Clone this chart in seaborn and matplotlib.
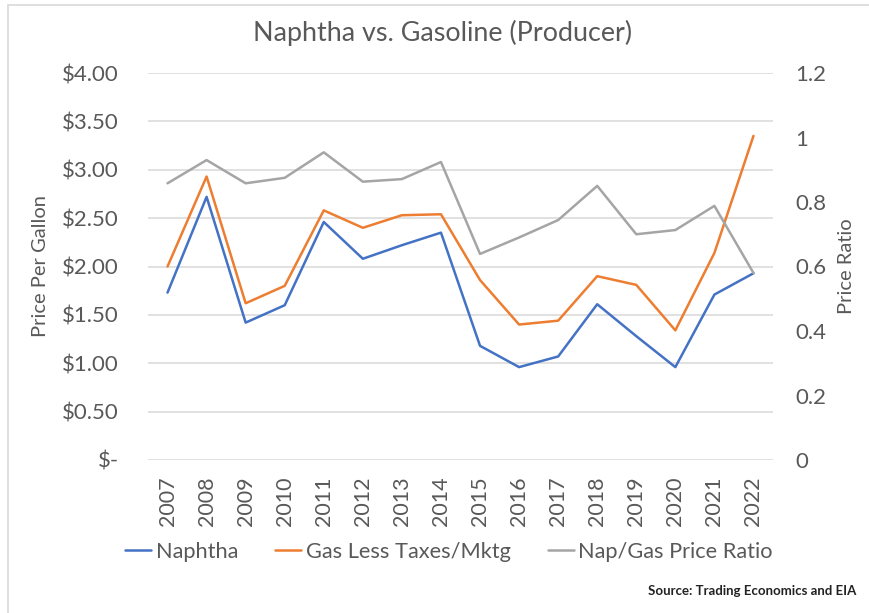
import matplotlib
matplotlib.use("Agg")
import matplotlib.pyplot as plt
import numpy as np
import pandas as pd
import seaborn as sns
from matplotlib.patches import Rectangle
from matplotlib.lines import Line2D
from matplotlib.ticker import FuncFormatter, MultipleLocator

# ---- data ----
years = list(range(2007, 2023))
naphtha = [1.73, 2.72, 1.42, 1.60, 2.46, 2.08, 2.22, 2.35, 1.18, 0.96, 1.07, 1.61, 1.28, 0.96, 1.71, 1.93]
gas_less = [2.00, 2.93, 1.62, 1.80, 2.58, 2.40, 2.53, 2.54, 1.86, 1.40, 1.44, 1.90, 1.81, 1.34, 2.14, 3.35]
ratio = [0.858, 0.930, 0.858, 0.875, 0.954, 0.863, 0.871, 0.924, 0.639, 0.690, 0.744, 0.850, 0.700, 0.713, 0.788, 0.580]

series_names = ["Naphtha", "Gas Less Taxes/Mktg", "Nap/Gas Price Ratio"]
colors = ["#4472C4", "#ED7D31", "#A5A5A5"]
txt = "#595959"

df = pd.DataFrame({"Year": years, "Naphtha": naphtha, "Gas": gas_less, "Ratio": ratio})

sns.set_style("white")
plt.rcParams["font.family"] = ["Lato", "DejaVu Sans"]

fig = plt.figure(figsize=(8.69, 6.13), dpi=100)
ax = fig.add_axes([148 / 869, 1 - 460 / 613, (773 - 148) / 869, (460 - 73) / 613])
ax2 = ax.twinx()

sns.lineplot(data=df, x="Year", y="Naphtha", ax=ax, color=colors[0], linewidth=1.8)
sns.lineplot(data=df, x="Year", y="Gas", ax=ax, color=colors[1], linewidth=1.8)
sns.lineplot(data=df, x="Year", y="Ratio", ax=ax2, color=colors[2], linewidth=1.8)

ax.set_xlim(2006.5, 2022.5)
ax.set_ylim(0, 4)
ax2.set_ylim(0, 1.2)
ax.yaxis.set_major_locator(MultipleLocator(0.5))
ax2.yaxis.set_major_locator(MultipleLocator(0.2))
ax.yaxis.set_major_formatter(FuncFormatter(lambda v, p: "$-" if abs(v) < 1e-9 else f"${v:.2f}"))
ax2.yaxis.set_major_formatter(FuncFormatter(lambda v, p: f"{v:.1f}".rstrip("0").rstrip(".") if v else "0"))
ax.set_xticks(years)
ax.set_xticklabels([str(y) for y in years], rotation=90)

ax.grid(axis="y", color="#D9D9D9", linewidth=1.1)
ax.set_axisbelow(True)
for a in (ax, ax2):
    for s in a.spines.values():
        s.set_visible(False)
    a.set_xlabel("")
    a.set_ylabel("")
ax.tick_params(axis="y", length=0, pad=21, labelsize=16, labelcolor=txt)
ax.tick_params(axis="x", length=0, pad=12, labelsize=15.5, labelcolor=txt)
ax2.tick_params(axis="y", length=0, pad=16, labelsize=16, labelcolor=txt)

fig.text(0.509, 0.946, "Naphtha vs. Gasoline (Producer)", ha="center", va="center",
         fontsize=19.4, color=txt)
fig.text(40 / 869, 1 - 266 / 613, "Price Per Gallon", rotation=90, ha="center", va="center",
         fontsize=14.5, color=txt)
fig.text(846 / 869, 1 - 266 / 613, "Price Ratio", rotation=90, ha="center", va="center",
         fontsize=14.5, color=txt)

handles = [Line2D([], [], color=c, linewidth=1.8) for c in colors]
fig.legend(handles, series_names, loc="center", bbox_to_anchor=(449 / 869, 1 - 552 / 613),
           ncol=3, frameon=False, fontsize=15.7, labelcolor=txt, handlelength=1.2,
           handletextpad=0.2, columnspacing=1.7)

fig.text(856 / 869, 1 - 591 / 613, "Source: Trading Economics and EIA", ha="right", va="center",
         fontsize=9.5, fontweight="bold", color="#222222")

fig.patches.append(Rectangle((8 / 869, -0.05), 1.1, 1.05 - 5 / 613, transform=fig.transFigure,
                             fill=False, edgecolor="#D9D9D9", linewidth=1.2))

fig.savefig("out.png", dpi=100)
